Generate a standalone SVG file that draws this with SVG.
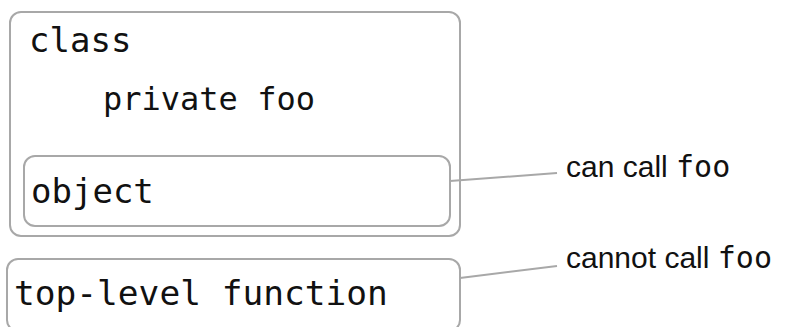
<svg xmlns="http://www.w3.org/2000/svg" width="785" height="327" viewBox="0 0 785 327">
<style>
.box{fill:none;stroke:#a8a8a8;stroke-width:2}
.code{font-family:"DejaVu Sans Mono",monospace;fill:#111}
.lbl{font-family:"Liberation Sans",Arial,sans-serif;font-size:30px;fill:#111}
.mono{font-family:"DejaVu Sans Mono",monospace;font-size:30px}
.conn{stroke:#a8a8a8;stroke-width:2;fill:none}
</style>
<rect width="785" height="327" fill="#fff"/>
<g id="class">
<rect class="box" x="10" y="12" width="450" height="224" rx="11"/>
<text class="code" x="29" y="52" font-size="34">class</text>
<text class="code" x="103" y="110" font-size="32">private foo</text>
</g>
<g id="object">
<rect class="box" x="24" y="156" width="426" height="70" rx="11"/>
<text class="code" x="31" y="203" font-size="34">object</text>
</g>
<g id="toplevel">
<rect class="box" x="7" y="259" width="453" height="72" rx="11"/>
<text class="code" x="14" y="305" font-size="34.5">top-level function</text>
</g>
<g id="connectors">
<line class="conn" x1="450" y1="181" x2="557" y2="173"/>
<line class="conn" x1="460" y1="278" x2="557" y2="266"/>
</g>
<g id="labels">
<text class="lbl" x="566" y="177">can call <tspan class="mono">foo</tspan></text>
<text class="lbl" x="566" y="268">cannot call <tspan class="mono">foo</tspan></text>
</g>
</svg>
